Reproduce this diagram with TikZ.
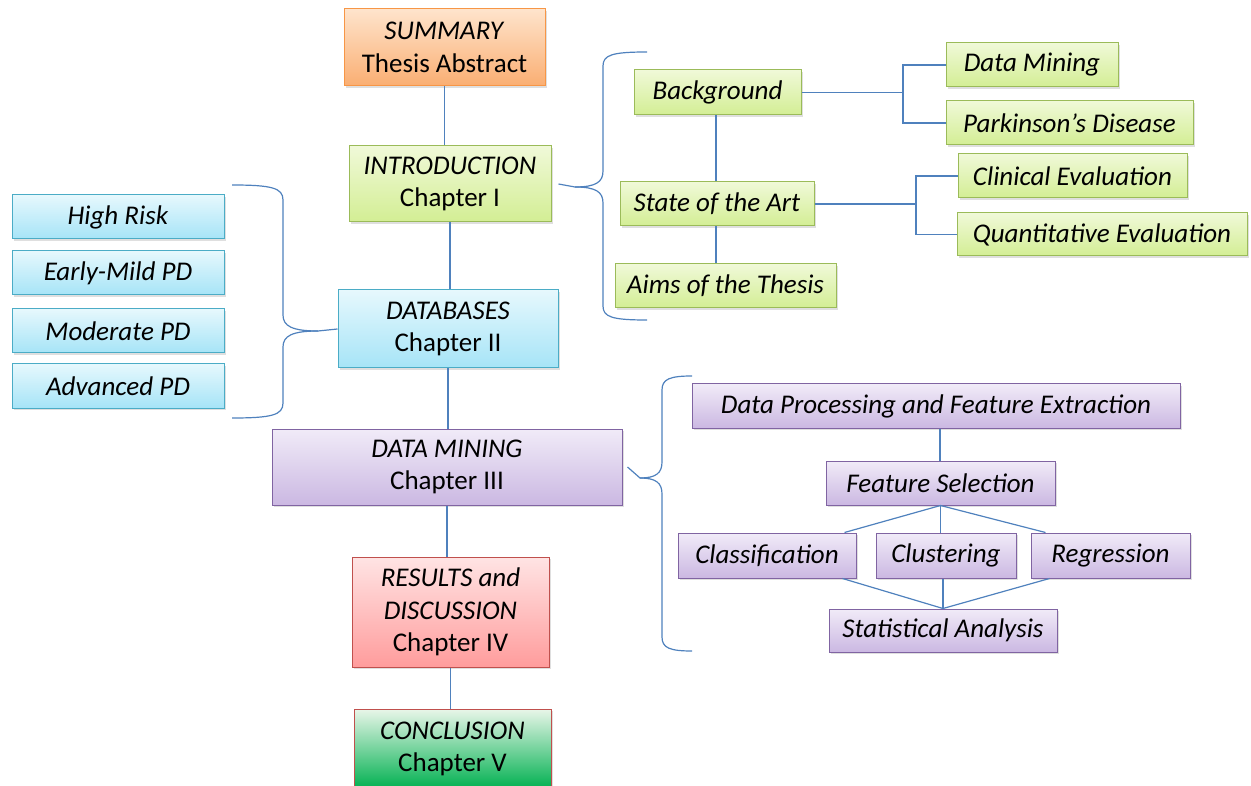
\documentclass[tikz,border=0pt]{standalone}
\usepackage{fontspec}
\setmainfont{Carlito}
\usetikzlibrary{shadows,calc}
\definecolor{lnk}{HTML}{4F81BD}
\definecolor{oT}{HTML}{FEE4CC}\definecolor{oB}{HTML}{FAAE72}\definecolor{oD}{HTML}{F79646}
\definecolor{gT}{HTML}{F0F9D8}\definecolor{gB}{HTML}{D3EE94}\definecolor{gD}{HTML}{9BBB59}
\definecolor{bT}{HTML}{E6F8FD}\definecolor{bB}{HTML}{A6E4F7}\definecolor{bD}{HTML}{4BACC6}
\definecolor{pT}{HTML}{F1EBF8}\definecolor{pB}{HTML}{CBB8E2}\definecolor{pD}{HTML}{8064A2}
\definecolor{rT}{HTML}{FFE4E4}\definecolor{rB}{HTML}{FF9C9C}\definecolor{rD}{HTML}{C0504D}
\definecolor{cT}{HTML}{E9F6E9}\definecolor{cB}{HTML}{00B050}
\tikzset{
  box/.style={draw, line width=1pt, inner sep=0pt, align=center,
    font=\fontsize{27}{32.5}\selectfont,
    drop shadow={shadow xshift=2pt, shadow yshift=-2pt, opacity=0.25}},
  wh/.style 2 args={minimum width=#1pt, minimum height=#2pt},
  obox/.style={box, draw=oD, top color=oT, bottom color=oB},
  gbox/.style={box, draw=gD, top color=gT, bottom color=gB},
  bbox/.style={box, draw=bD, top color=bT, bottom color=bB},
  pbox/.style={box, draw=pD, top color=pT, bottom color=pB},
  rbox/.style={box, draw=rD, top color=rT, bottom color=rB},
  cbox/.style={box, draw=rD, top color=cT, bottom color=cB},
  link/.style={draw=lnk, line width=1.2pt},
}
\begin{document}
\begin{tikzpicture}[x=1pt, y=-1pt]
\useasboundingbox (0,0) rectangle (1251,786);
% main chain
\node[obox, wh={201}{77}] (summ) at (444.5,47.5) {\textit{SUMMARY}\\Thesis Abstract};
\node[gbox, wh={202}{76}] (intro) at (450,184) {\textit{INTRODUCTION}\\Chapter I};
\node[bbox, wh={220}{78}] (db) at (448,329) {\textit{DATABASES}\\Chapter II};
\node[pbox, wh={350}{76}] (dm) at (447,467) {\textit{DATA MINING}\\Chapter III};
\node[rbox, wh={197}{110}] (res) at (450.5,612) {\textit{RESULTS and}\\\textit{DISCUSSION}\\Chapter IV};
\node[cbox, wh={197}{80}] (conc) at (452.5,749) {\textit{CONCLUSION}\\Chapter V};
% left group
\node[bbox, wh={212}{44}] (hr) at (118,217) {\textit{High Risk}};
\node[bbox, wh={212}{44}] (em) at (118,273) {\textit{Early-Mild PD}};
\node[bbox, wh={212}{44}] (mo) at (118,331) {\textit{Moderate PD}};
\node[bbox, wh={212}{44}] (ad) at (118,386) {\textit{Advanced PD}};
% intro group
\node[gbox, wh={167}{45}] (bg) at (717.5,92.5) {\textit{Background}};
\node[gbox, wh={194}{44}] (sota) at (717,204) {\textit{State of the Art}};
\node[gbox, wh={221}{44}] (aims) at (725.5,286) {\textit{Aims of the Thesis}};
\node[gbox, wh={172}{44}] (dmn) at (1032,65) {\textit{Data Mining}};
\node[gbox, wh={247}{44}] (pd) at (1069.5,123) {\textit{Parkinson’s Disease}};
\node[gbox, wh={229}{44}] (clin) at (1072.5,176) {\textit{Clinical Evaluation}};
\node[gbox, wh={290}{43}] (quant) at (1102,234.5) {\textit{Quantitative Evaluation}};
% data mining group
\node[pbox, wh={488}{44}] (dp) at (936,406) {\textit{Data Processing and Feature Extraction}};
\node[pbox, wh={229}{44}] (fs) at (940.5,483) {\textit{Feature Selection}};
\node[pbox, wh={178}{45}] (cls) at (767,555.5) {\textit{Classification}};
\node[pbox, wh={140}{45}] (clu) at (946,555.5) {\textit{Clustering}};
\node[pbox, wh={159}{45}] (reg) at (1110.5,555.5) {\textit{Regression}};
\node[pbox, wh={228}{43}] (sa) at (943,630.5) {\textit{Statistical Analysis}};
% chain links
\path[link] (summ.south) -- (summ.south |- intro.north);
\path[link] (intro.south) -- (intro.south |- db.north);
\path[link] (db.south) -- (db.south |- dm.north);
\path[link] (dm.south) -- (dm.south |- res.north);
\path[link] (res.south) -- (res.south |- conc.north);
% intro tree
\coordinate (f1) at (903,92.5);
\coordinate (f2) at (916,204);
\path[link] (bg.south -| 716,0) -- (sota.north -| 716,0);
\path[link] (sota.south -| 716,0) -- (aims.north -| 716,0);
\path[link] (bg.east) -- (f1);
\path[link] (dmn.west) -| (f1) |- (pd.west);
\path[link] (sota.east) -- (f2);
\path[link] (clin.west) -| (f2) |- (quant.west);
% data mining tree
\path[link] (dp.south -| 940,0) -- (fs.north -| 940,0);
\path[link] ($(cls.north east)+(-12,0)$) -- (fs.south) -- ($(reg.north west)+(15,0)$);
\path[link] (fs.south) -- (fs.south |- clu.north);
\path[link] ($(cls.south east)+(-14,0)$) -- (sa.north) -- ($(reg.south west)+(19,0)$);
\path[link] (sa.north) -- (sa.north |- clu.south);
% braces
\path[link] (232,185) .. controls (272,185) and (283,188) .. (283,200) -- (283,315)
  .. controls (283,326) and (292,331) .. (318,331) -- (db.west);
\path[link] (232,418) .. controls (272,418) and (283,415) .. (283,403) -- (283,347)
  .. controls (283,336) and (292,331) .. (318,331);
\path[link] (647,52) .. controls (612,52) and (603,55) .. (603,66) -- (603,171)
  .. controls (603,182) and (596,187) .. (575,187) -- ($(intro.east)+(7,0)$);
\path[link] (647,320) .. controls (612,320) and (603,317) .. (603,306) -- (603,203)
  .. controls (603,192) and (596,187) .. (575,187);
\path[link] (692,376) .. controls (670,376) and (662,379) .. (662,390) -- (662,462)
  .. controls (662,473) and (656,478) .. (640,478) -- ($(dm.east)+(5,0)$);
\path[link] (692,651) .. controls (670,651) and (662,648) .. (662,637) -- (662,494)
  .. controls (662,483) and (656,478) .. (640,478);
\end{tikzpicture}
\end{document}
